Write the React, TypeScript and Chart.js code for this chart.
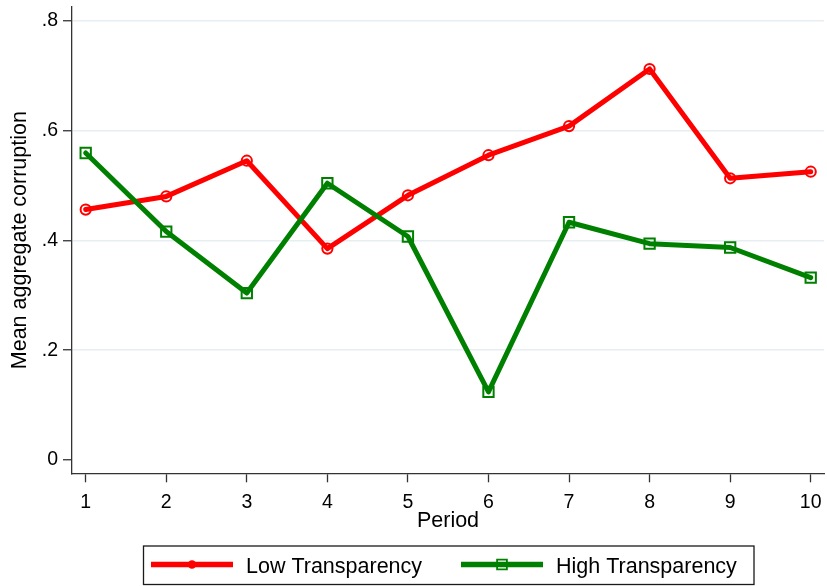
import React, { useEffect, useRef } from "react";
import { Chart, registerables } from "chart.js";

Chart.register(...registerables);

const periods = [1, 2, 3, 4, 5, 6, 7, 8, 9, 10];
const lowTransparency = [0.456, 0.48, 0.545, 0.385, 0.482, 0.555, 0.608, 0.712, 0.513, 0.525];
const highTransparency = [0.559, 0.416, 0.304, 0.504, 0.407, 0.124, 0.433, 0.394, 0.387, 0.332];
const yTicks = [0, 0.2, 0.4, 0.6, 0.8];
const yTickLabels = ["0", ".2", ".4", ".6", ".8"];
const seriesLabels = ["Low Transparency", "High Transparency"];
const seriesColors = ["#ff0000", "#008000"];
const seriesMarkers = ["circle", "rect"];

const FONT = '"Liberation Sans", Arial, Helvetica, sans-serif';

const legendPlugin = {
  id: "stataLegend",
  afterDraw(chart: any) {
    const ctx = chart.ctx;
    ctx.save();
    ctx.strokeStyle = "#1a1a1a";
    ctx.lineWidth = 1.3;
    ctx.strokeRect(143.5, 546, 610.5, 38.5);
    const starts = [151, 461];
    chart.data.datasets.forEach((ds: any, i: number) => {
      const x0 = starts[i];
      const y = 564.5;
      ctx.strokeStyle = ds.borderColor;
      ctx.lineWidth = 5.7;
      ctx.lineCap = "butt";
      ctx.beginPath();
      ctx.moveTo(x0, y);
      ctx.lineTo(x0 + 82, y);
      ctx.stroke();
      ctx.lineWidth = 1.8;
      const cx = x0 + 41;
      ctx.beginPath();
      if (ds.pointStyle === "circle") {
        ctx.arc(cx, y, 3.4, 0, Math.PI * 2);
      } else {
        ctx.rect(cx - 4.9, y - 4.9, 9.8, 9.8);
      }
      ctx.stroke();
      ctx.fillStyle = "#000";
      ctx.font = `21.5px ${FONT}`;
      ctx.textBaseline = "alphabetic";
      ctx.textAlign = "left";
      ctx.fillText(ds.label, x0 + 95, 573.3);
    });
    ctx.restore();
  },
};

export default function App() {
  const ref = useRef<HTMLCanvasElement | null>(null);

  useEffect(() => {
    const canvas = ref.current;
    if (!canvas) return;
    const series = [lowTransparency, highTransparency];
    const datasets = series.map((vals, i) => ({
      label: seriesLabels[i],
      data: periods.map((p, j) => ({ x: p, y: vals[j] })),
      borderColor: seriesColors[i],
      backgroundColor: "rgba(0,0,0,0)",
      borderWidth: 5,
      borderJoinStyle: "round" as const,
      borderCapStyle: "round" as const,
      tension: 0,
      pointStyle: seriesMarkers[i],
      pointRadius: i === 0 ? 5.1 : 7.3,
      pointBorderWidth: 2,
      pointBorderColor: seriesColors[i],
      pointBackgroundColor: "rgba(0,0,0,0)",
      order: i === 0 ? 1 : 0,
      clip: false as const,
    }));

    const chart = new Chart(canvas, {
      type: "line",
      data: { datasets },
      plugins: [legendPlugin],
      options: {
        animation: false,
        responsive: false,
        maintainAspectRatio: false,
        layout: { autoPadding: false, padding: { top: 7, right: 3, left: 0, bottom: 46 } },
        plugins: {
          legend: { display: false },
          tooltip: { enabled: false },
        },
        scales: {
          x: {
            type: "linear",
            min: 0.83,
            max: 10.165,
            afterBuildTicks: (scale: any) => {
              scale.ticks = periods.map((p) => ({ value: p }));
            },
            afterFit: (scale: any) => {
              scale.height = 66.7;
              scale.paddingLeft = 0;
              scale.paddingRight = 0;
            },
            ticks: {
              color: "#000",
              font: { family: FONT, size: 19.5 },
              padding: 9,
              maxRotation: 0,
              autoSkip: false,
              callback: (v: any) => String(v),
            },
            grid: {
              drawOnChartArea: false,
              drawTicks: true,
              tickLength: 9,
              tickColor: "#333",
              tickWidth: 1.3,
            },
            border: { display: true, color: "#333", width: 1.3 },
            title: {
              display: true,
              text: "Period",
              color: "#000",
              font: { family: FONT, size: 21.5 },
              padding: { top: 0, bottom: 6 },
            },
          },
          y: {
            type: "linear",
            min: -0.0242,
            max: 0.8249,
            afterBuildTicks: (scale: any) => {
              scale.ticks = yTicks.map((v) => ({ value: v }));
            },
            afterFit: (scale: any) => {
              scale.width = 72;
              scale.paddingTop = 0;
              scale.paddingBottom = 0;
            },
            ticks: {
              color: "#000",
              font: { family: FONT, size: 19.5 },
              padding: 5,
              autoSkip: false,
              callback: (v: any) => {
                const idx = yTicks.findIndex((t) => Math.abs(t - v) < 1e-9);
                return idx >= 0 ? yTickLabels[idx] : "";
              },
            },
            grid: {
              color: (c: any) => (c.tick && Math.abs(c.tick.value) < 1e-9 ? "rgba(0,0,0,0)" : "#e6eef2"),
              lineWidth: 1.5,
              drawTicks: true,
              tickLength: 9,
              tickColor: "#333",
              tickWidth: 1.3,
            },
            border: { display: true, color: "#333", width: 1.3 },
            title: {
              display: true,
              text: "Mean aggregate corruption",
              color: "#000",
              font: { family: FONT, size: 21.5 },
              padding: { top: 7, bottom: 0 },
            },
          },
        },
      } as any,
    });
    return () => chart.destroy();
  }, []);

  return (
    <div style={{ position: "absolute", left: 0, top: 0, width: 827, height: 586, background: "#fff" }}>
      <canvas ref={ref} width={827} height={586} style={{ display: "block", width: 827, height: 586 }} />
    </div>
  );
}
